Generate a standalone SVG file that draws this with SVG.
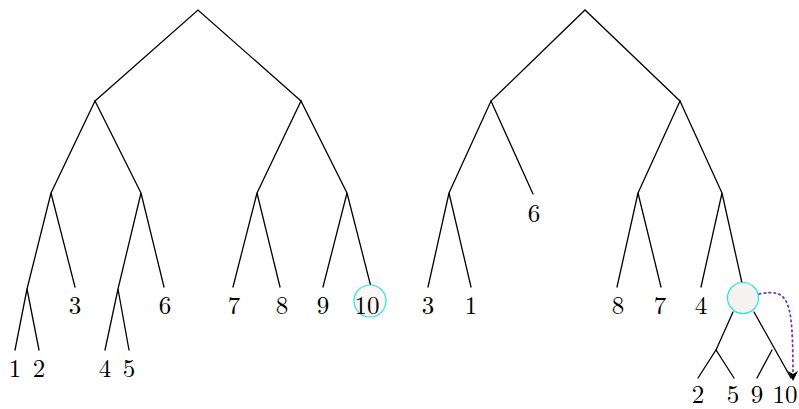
<svg xmlns="http://www.w3.org/2000/svg" width="799" height="409" viewBox="0 0 799 409">
<defs>
<style>
.e{stroke:#000;stroke-width:1.3;fill:none;stroke-linecap:round}
.t{font-family:"Latin Modern Roman","Liberation Serif","DejaVu Serif",serif;font-size:25px;fill:#000;text-anchor:middle}
.hl{stroke:#22e5e5;stroke-width:1.2}
</style>
<marker id="ah" viewBox="0 0 10 10" refX="9" refY="5" markerWidth="10" markerHeight="10" orient="auto" markerUnits="userSpaceOnUse">
<path d="M0,0 L10,5 L0,10 L3,5 Z" fill="#000"/>
</marker>
</defs>
<rect width="799" height="409" fill="#fff"/>
<g id="connectors">
<!-- left tree -->
<path class="e" d="M95,101 L198,10 L301,101"/>
<path class="e" d="M51,193 L95,101 L141,193"/>
<path class="e" d="M257,193 L301,101 L347,193"/>
<path class="e" d="M27,289 L51,193 L75,287"/>
<path class="e" d="M15,350 L27,289 L39,350"/>
<path class="e" d="M118,289 L141,193 L164,287"/>
<path class="e" d="M105,350 L118,289 L129,350"/>
<path class="e" d="M233,287 L257,193 L280,287"/>
<path class="e" d="M323,287 L347,193 L371,287"/>
<!-- right tree -->
<path class="e" d="M491,101 L585,10 L680,101"/>
<path class="e" d="M449,193 L491,101 L533,194"/>
<path class="e" d="M428,287 L449,193 L471,287"/>
<path class="e" d="M638,193 L680,101 L722,193"/>
<path class="e" d="M617,287 L638,193 L661,287"/>
<path class="e" d="M701,287 L722,193 L742,283"/>
<path class="e" d="M733,312 L716,350"/>
<path class="e" d="M698,378 L716,350 L734,378"/>
<path class="e" d="M754,312 L791,378"/>
<path class="e" d="M757,378 L772,350"/>
<path d="M759,294 C790,288 793,300 793,380" fill="none" stroke="#6a3dc9" stroke-width="1.8" stroke-dasharray="1.5,3.5" stroke-linecap="round" marker-end="url(#ah)"/>
</g>
<g id="node-left-10-highlight"><circle class="hl" cx="370" cy="301" r="16" fill="#fdf8f8"/></g>
<g id="node-right-highlight"><circle class="hl" cx="743" cy="298" r="15.5" fill="#f4f3f2"/></g>
<g id="labels-left">
<g id="n1"><text class="t" x="15" y="377">1</text></g>
<g id="n2"><text class="t" x="39" y="377">2</text></g>
<g id="n3"><text class="t" x="75" y="314">3</text></g>
<g id="n4"><text class="t" x="105" y="377">4</text></g>
<g id="n5"><text class="t" x="129" y="377">5</text></g>
<g id="n6"><text class="t" x="165" y="314">6</text></g>
<g id="n7"><text class="t" x="234" y="314">7</text></g>
<g id="n8"><text class="t" x="282" y="314">8</text></g>
<g id="n9"><text class="t" x="323" y="314">9</text></g>
<g id="n10"><text class="t" x="367" y="314">10</text></g>
</g>
<g id="labels-right">
<g id="r3"><text class="t" x="428" y="314">3</text></g>
<g id="r1"><text class="t" x="471" y="314">1</text></g>
<g id="r6"><text class="t" x="534" y="222">6</text></g>
<g id="r8"><text class="t" x="618" y="314">8</text></g>
<g id="r7"><text class="t" x="660" y="314">7</text></g>
<g id="r4"><text class="t" x="701" y="314">4</text></g>
<g id="r2"><text class="t" x="698" y="403">2</text></g>
<g id="r5"><text class="t" x="733" y="403">5</text></g>
<g id="r9"><text class="t" x="757" y="403">9</text></g>
<g id="r10"><text class="t" x="785" y="403">10</text></g>
</g>
</svg>
